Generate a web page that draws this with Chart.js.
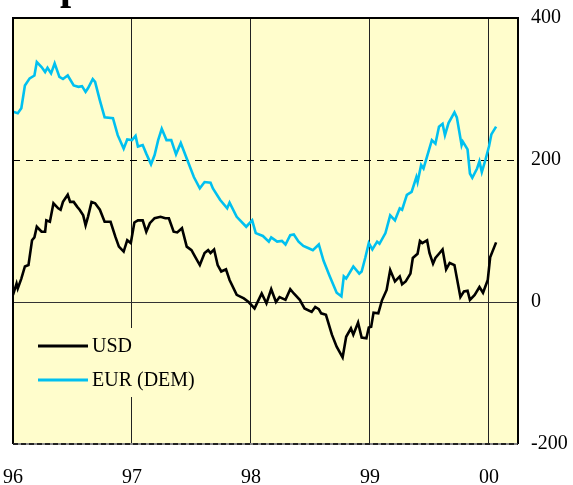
<!DOCTYPE html>
<html>
<head>
<meta charset="utf-8">
<script src="https://cdn.jsdelivr.net/npm/chart.js@4.4.0/dist/chart.umd.min.js"></script>
<style>
  html, body { margin: 0; padding: 0; background: #fff; overflow: hidden; }
  canvas { display: block; }
</style>
</head>
<body>
<canvas id="grafico" width="573" height="485"></canvas>
<script>
// anos no eixo x e os seus rotulos
const yearTicks = [1996, 1997, 1998, 1999, 2000];
const yearLabels = ['96', '97', '98', '99', '00'];
const yTicks = [-200, 0, 200, 400];

const seriesNames = ['USD', 'EUR (DEM)'];
const seriesColors = ['#000000', '#00C0F0'];

// USD (datas em anos decimais)
const usdT = [1996.00,1996.03,1996.04,1996.07,1996.10,1996.13,1996.16,1996.18,1996.20,1996.24,1996.27,1996.28,1996.31,1996.34,1996.38,1996.40,1996.42,1996.46,1996.48,1996.51,1996.54,1996.56,1996.59,1996.61,1996.63,1996.66,1996.69,1996.73,1996.77,1996.82,1996.86,1996.89,1996.93,1996.96,1996.99,
  1997.02,1997.05,1997.09,1997.12,1997.15,1997.19,1997.24,1997.28,1997.31,1997.35,1997.38,1997.42,1997.46,1997.50,1997.53,1997.57,1997.61,1997.64,1997.66,1997.69,1997.72,1997.75,1997.79,1997.82,1997.88,1997.94,1997.98,
  1998.03,1998.05,1998.09,1998.13,1998.17,1998.21,1998.24,1998.29,1998.33,1998.36,1998.41,1998.45,1998.51,1998.54,1998.57,1998.59,1998.63,1998.68,1998.72,1998.77,1998.80,1998.84,1998.86,1998.90,1998.93,1998.97,1998.99,
  1999.01,1999.03,1999.07,1999.10,1999.14,1999.17,1999.21,1999.25,1999.27,1999.30,1999.34,1999.36,1999.40,1999.42,1999.44,1999.48,1999.50,1999.53,1999.55,1999.58,1999.61,1999.64,1999.67,1999.71,1999.76,1999.79,1999.82,1999.84,1999.88,1999.92,1999.95,1999.99,
  2000.01,2000.06];
const usdV = [10,26,19,33,50,52,87,91,106,99,99,115,113,139,132,130,141,151,141,141,134,130,122,108,120,141,139,130,113,113,92,78,71,87,83,
  112,115,115,99,111,118,120,118,118,99,98,104,78,73,64,52,69,73,69,74,52,43,46,31,10,5,0,
  -9,-2,12,-2,18,0,7,3,18,12,3,-9,-14,-7,-10,-16,-18,-46,-63,-78,-49,-37,-46,-29,-50,-51,-36,
  -35,-15,-16,2,17,45,29,36,25,29,40,62,68,86,83,87,69,54,62,68,74,46,55,52,7,15,16,3,10,21,13,31,
  63,84];

// EUR (DEM)
const eurT = [1996.00,1996.04,1996.07,1996.10,1996.14,1996.18,1996.20,1996.24,1996.27,1996.29,1996.32,1996.35,1996.39,1996.42,1996.46,1996.51,1996.55,1996.58,1996.61,1996.63,1996.67,1996.69,1996.73,1996.77,1996.84,1996.88,1996.93,1996.96,
  1997.00,1997.03,1997.05,1997.09,1997.12,1997.16,1997.19,1997.22,1997.25,1997.29,1997.33,1997.37,1997.41,1997.46,1997.52,1997.57,1997.61,1997.66,1997.68,1997.74,1997.80,1997.82,1997.88,1997.96,
  1998.01,1998.04,1998.10,1998.15,1998.17,1998.22,1998.26,1998.29,1998.33,1998.36,1998.40,1998.44,1998.48,1998.52,1998.57,1998.61,1998.66,1998.72,1998.76,1998.78,1998.80,1998.86,1998.91,1998.93,1998.96,1998.99,
  1999.02,1999.06,1999.08,1999.13,1999.17,1999.21,1999.25,1999.27,1999.31,1999.35,1999.39,1999.40,1999.43,1999.45,1999.48,1999.52,1999.55,1999.58,1999.61,1999.63,1999.66,1999.71,1999.73,1999.77,1999.78,1999.82,1999.84,1999.86,1999.90,1999.92,1999.94,1999.97,
  2000.00,2000.02,2000.06];
const eurV = [268,266,273,305,315,319,338,331,324,330,322,336,317,314,319,305,303,304,296,301,314,310,284,260,259,235,216,229,
  228,234,219,221,209,194,207,228,244,228,228,208,224,202,176,160,169,168,160,144,132,140,120,106,
  115,97,93,85,91,85,86,81,94,95,85,79,76,73,81,58,37,13,8,36,33,50,40,43,62,83,
  74,85,82,97,122,115,132,130,151,155,176,169,193,188,205,228,223,247,251,235,252,267,260,221,226,215,181,175,188,198,183,200,
  219,236,247];

const toPoints = (t, v) => t.map((x, i) => ({ x: x, y: v[i] }));

const serif = '"Liberation Serif", "Times New Roman", serif';

const plotBg = {
  id: 'plotBg',
  beforeDraw(chart) {
    const { ctx, chartArea: a } = chart;
    ctx.save();
    ctx.fillStyle = '#FFFDCC';
    ctx.fillRect(a.left, a.top, a.right - a.left, a.bottom - a.top);
    ctx.restore();
  }
};

// linhas horizontais em 0 (cheia) e 200 (tracejada)
const refLines = {
  id: 'refLines',
  beforeDatasetsDraw(chart) {
    const { ctx, chartArea: a, scales } = chart;
    const y0 = Math.round(scales.y.getPixelForValue(0)) + 0.5;
    const y200 = Math.round(scales.y.getPixelForValue(200)) + 0.5;
    ctx.save();
    ctx.lineWidth = 1;
    ctx.strokeStyle = '#333';
    ctx.beginPath();
    ctx.moveTo(a.left, y0);
    ctx.lineTo(a.right, y0);
    ctx.stroke();
    ctx.strokeStyle = '#000';
    ctx.setLineDash([7, 6]);
    ctx.beginPath();
    ctx.moveTo(a.left, y200);
    ctx.lineTo(a.right, y200);
    ctx.stroke();
    ctx.restore();
  }
};

const innerLegend = {
  id: 'innerLegend',
  afterDatasetsDraw(chart) {
    const { ctx } = chart;
    ctx.save();
    ctx.fillStyle = '#FFFDCC';
    ctx.fillRect(30, 328, 180, 69);
    ctx.font = '20px ' + serif;
    ctx.textBaseline = 'middle';
    chart.data.datasets.forEach((ds, i) => {
      const y = 346 + i * 34;
      ctx.strokeStyle = ds.borderColor;
      ctx.lineWidth = 3;
      ctx.beginPath();
      ctx.moveTo(38, y);
      ctx.lineTo(88, y);
      ctx.stroke();
      ctx.fillStyle = '#000';
      ctx.fillText(ds.label, 92, y + 1);
    });
    ctx.restore();
  }
};

const frame = {
  id: 'frame',
  afterDraw(chart) {
    const { ctx, chartArea: a } = chart;
    ctx.save();
    ctx.lineWidth = 2;
    ctx.strokeStyle = '#000';
    ctx.beginPath();
    ctx.moveTo(a.left, a.bottom);
    ctx.lineTo(a.left, a.top);
    ctx.lineTo(a.right, a.top);
    ctx.lineTo(a.right, a.bottom);
    ctx.stroke();
    ctx.strokeStyle = '#888';
    ctx.beginPath();
    ctx.moveTo(a.left, a.bottom);
    ctx.lineTo(a.right, a.bottom);
    ctx.stroke();
    ctx.strokeStyle = '#222';
    ctx.setLineDash([5, 3]);
    ctx.beginPath();
    ctx.moveTo(a.left, a.bottom);
    ctx.lineTo(a.right, a.bottom);
    ctx.stroke();
    ctx.setLineDash([]);
    // titulo cortado no topo
    ctx.font = 'bold 40px ' + serif;
    ctx.fillStyle = '#000';
    ctx.textBaseline = 'alphabetic';
    const pre = ctx.measureText('Basis ').width;
    ctx.fillText('Basis points', 60 - pre, -1);
    ctx.restore();
  }
};

new Chart(document.getElementById('grafico'), {
  type: 'line',
  data: {
    datasets: [
      { label: seriesNames[0], data: toPoints(usdT, usdV), borderColor: seriesColors[0], borderWidth: 2.6 },
      { label: seriesNames[1], data: toPoints(eurT, eurV), borderColor: seriesColors[1], borderWidth: 2.6 }
    ]
  },
  options: {
    responsive: false,
    animation: false,
    events: [],
    elements: { point: { radius: 0 }, line: { tension: 0 } },
    layout: { padding: { left: 13, top: 18, right: 0, bottom: 0 } },
    plugins: { legend: { display: false }, tooltip: { enabled: false } },
    scales: {
      x: {
        type: 'linear',
        min: 1996,
        max: 2000.244,
        afterBuildTicks: (scale) => { scale.ticks = yearTicks.map(v => ({ value: v })); },
        afterFit: (scale) => {
          scale.height = 41;
          scale.paddingLeft = 0;
          scale.paddingRight = 0;
        },
        ticks: {
          callback: (v, i) => yearLabels[i],
          font: { family: serif, size: 20 },
          color: '#000',
          padding: 22,
          maxRotation: 0
        },
        grid: { color: '#222', lineWidth: 1, drawTicks: false },
        border: { display: false }
      },
      y: {
        position: 'right',
        min: -200,
        max: 400,
        afterBuildTicks: (scale) => { scale.ticks = yTicks.map(v => ({ value: v })); },
        afterFit: (scale) => {
          scale.width = 55;
          scale.paddingTop = 0;
          scale.paddingBottom = 0;
        },
        ticks: {
          font: { family: serif, size: 20 },
          color: '#000',
          padding: 13
        },
        grid: { display: false, drawTicks: false },
        border: { display: false }
      }
    }
  },
  plugins: [plotBg, refLines, innerLegend, frame]
});
</script>
</body>
</html>
